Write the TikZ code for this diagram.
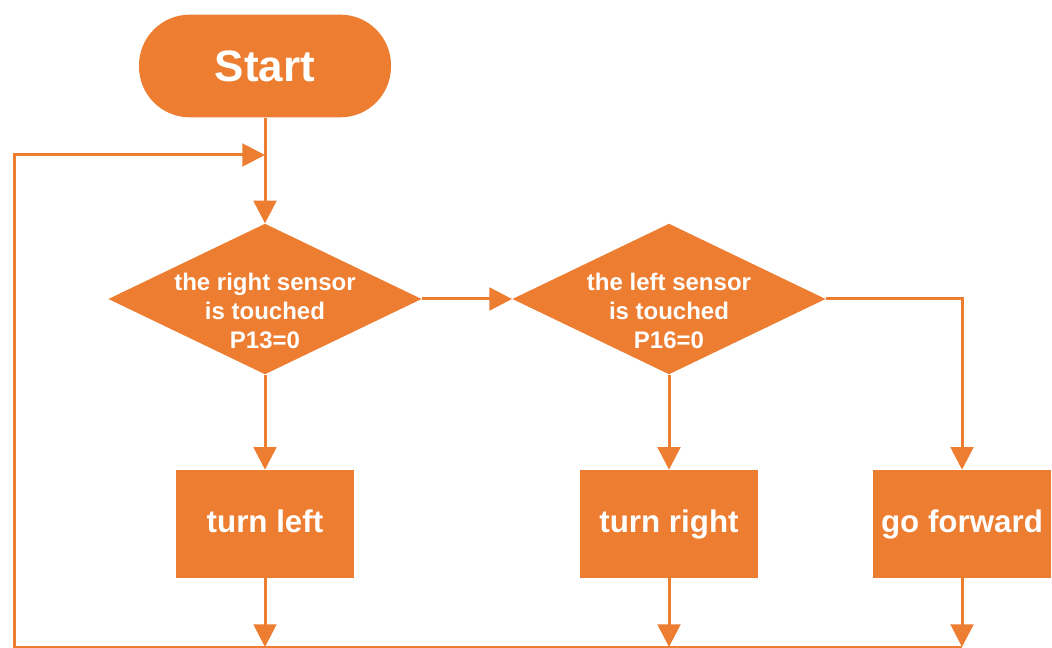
\documentclass[tikz,border=0pt]{standalone}
\usepackage{fontspec}
\setmainfont{Liberation Sans}
\usepackage{xcolor}
\usetikzlibrary{arrows.meta,positioning,shapes.geometric}
\definecolor{flow}{HTML}{ED7D31}

\begin{document}
\begin{tikzpicture}[
  x=0.75pt, y=-0.75pt,
  term/.style={fill=flow, rounded corners=38pt, minimum width=189pt, minimum height=77pt, text=white, font=\fontsize{33}{36}\selectfont\bfseries},
  decision/.style={diamond, fill=flow, inner sep=0pt, minimum width=235pt, minimum height=113pt},
  dtext/.style={text=white, align=center, font=\fontsize{18}{21.75}\selectfont\bfseries},
  action/.style={fill=flow, minimum width=134pt, minimum height=81pt, text height=17pt, text depth=5pt, text=white, font=\fontsize{23.5}{28}\selectfont\bfseries},
  arrow/.style={draw=flow, line width=2.25pt, -{Triangle[width=17pt,length=17pt]}},
  line/.style={draw=flow, line width=2.25pt}
]
\useasboundingbox (0,0) rectangle (1052,648);

\node[term] (start) at (265,66) {Start};
\node[decision, label={[dtext, yshift=-9pt]center:the right sensor\\is touched\\P13=0}] (touchR) at (265,299) {};
\node[decision, label={[dtext, yshift=-9pt]center:the left sensor\\is touched\\P16=0}] (touchL) at (669,299) {};
\node[action] (turnL) at (265,524) {turn left};
\node[action] (turnR) at (669,524) {turn right};
\node[action] (fwd) at (962,524) {go forward};

\coordinate (join) at (265,155);
\coordinate (base) at (962,647);
\coordinate (corner) at (14,647);

\draw[line] (start) -- (join);
\draw[arrow] (join) -- (touchR);
\draw[arrow] (touchR) -- (touchL);
\draw[arrow] (touchR) -- (turnL);
\draw[arrow] (touchL) -- (turnR);
\draw[arrow] (touchL.east) -| (fwd);
\draw[arrow] (turnL) -- (turnL |- base);
\draw[arrow] (turnR) -- (turnR |- base);
\draw[arrow] (fwd) -- (base);
\draw[arrow] (base) -- (corner) |- (join);
\end{tikzpicture}
\end{document}
